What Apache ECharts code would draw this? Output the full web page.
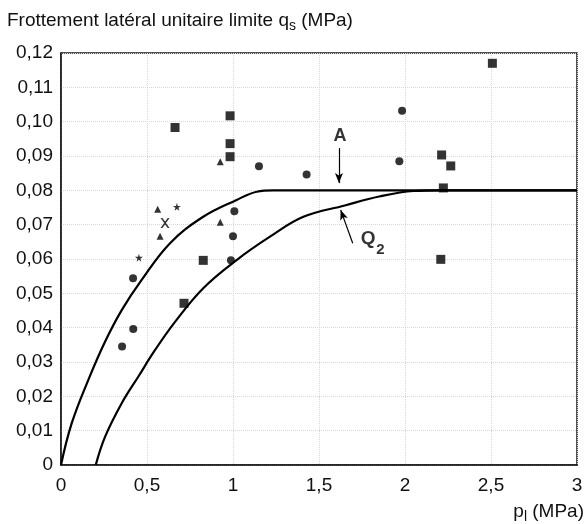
<!DOCTYPE html>
<html><head><meta charset="utf-8">
<script src="https://cdn.jsdelivr.net/npm/echarts@6/dist/echarts.min.js"></script>
<style>html,body{margin:0;padding:0;background:#fff}#c{width:586px;height:524px}</style>
</head><body><div id="c"></div>
<script>
var xTicks = ['0','0,5','1','1,5','2','2,5','3'];
var yTicks = ['0','0,01','0,02','0,03','0,04','0,05','0,06','0,07','0,08','0,09','0,10','0,11','0,12'];
var squares = [[0.663,0.0983],[0.983,0.1017],[0.983,0.0936],[0.983,0.0898],[0.827,0.0596],[0.715,0.0471],[2.213,0.0903],[2.266,0.0871],[2.223,0.0807],[2.208,0.0599],[2.508,0.117]];
var circles = [[0.419,0.0544],[0.420,0.0396],[0.355,0.0345],[1.151,0.087],[1.428,0.0846],[1.008,0.0739],[1.0,0.0666],[0.988,0.0596],[1.983,0.1032],[1.967,0.0885]];
var triangles = [[0.926,0.0883],[0.562,0.0745],[0.926,0.0707],[0.576,0.0666]];
var stars = [[0.674,0.0752],[0.453,0.0604]];
var crosses = [[0.605,0.0705]];
var curveA = [[0,0],[0.062,0.0121],[0.159,0.0248],[0.256,0.0359],[0.353,0.0451],[0.469,0.0539],[0.634,0.0646],[0.827,0.0723],[1.021,0.0772],[1.138,0.0796],[1.234,0.08],[1.6,0.08],[2.3,0.08],[3,0.08]];
var curveQ2 = [[0.202,0],[0.256,0.0082],[0.353,0.018],[0.449,0.0257],[0.547,0.0335],[0.663,0.0417],[0.827,0.0515],[1.021,0.0597],[1.215,0.0665],[1.409,0.0723],[1.65,0.0756],[1.85,0.0782],[2.05,0.0798],[2.2,0.08],[2.6,0.08],[3,0.08]];
var arrowA = [[1.616,0.0923],[1.616,0.0821]];
var arrowQ2 = [[1.696,0.0646],[1.626,0.0743]];
var labelA = [1.622,0.0958];
var labelQ = [1.785,0.0658];
var labelQsub = [1.857,0.0628];

var FONT = 'Liberation Sans, Arial, Helvetica, sans-serif';
var chart = echarts.init(document.getElementById('c'));
function xFmt(v){ var i = Math.round(v/0.5); return xTicks[i] !== undefined ? xTicks[i] : ''; }
function yFmt(v){ var i = Math.round(v/0.01); return yTicks[i] !== undefined ? yTicks[i] : ''; }
var star = 'path://M50,0 L61,35 L98,35 L68,57 L79,91 L50,70 L21,91 L32,57 L2,35 L39,35 Z';
var cross = 'path://M0,0 L4,0 L10,7 L16,0 L20,0 L12,10 L20,20 L16,20 L10,13 L4,20 L0,20 L8,10 Z';
var option = {
  animation: false,
  backgroundColor: '#fff',
  grid: {left: 61, right: 9, top: 53, bottom: 59, show: true, borderColor: '#1a1a1a', borderWidth: 1.5},
  xAxis: {type: 'value', min: 0, max: 3, interval: 0.5,
    axisLine: {show: true, lineStyle: {color: '#1a1a1a', width: 1.5}}, axisTick: {show: false},
    axisLabel: {formatter: xFmt, color: '#111', fontSize: 19, fontFamily: FONT, margin: 11},
    splitLine: {show: true, lineStyle: {color: '#d6d6d6', type: 'dotted', width: 1}}},
  yAxis: {type: 'value', min: 0, max: 0.12, interval: 0.01,
    axisLine: {show: true, lineStyle: {color: '#1a1a1a', width: 1.5}}, axisTick: {show: false},
    axisLabel: {formatter: yFmt, color: '#111', fontSize: 19, fontFamily: FONT, margin: 8},
    splitLine: {show: true, lineStyle: {color: '#d6d6d6', type: 'dotted', width: 1}}},
  graphic: [
    {type: 'text', left: 7, top: 11, style: {text: 'Frottement latéral unitaire limite q{s|s} (MPa)', fill: '#111', font: '19px ' + FONT,
      rich: {s: {fontSize: 14, fontFamily: FONT, fill: '#111', padding: [11,0,0,0]}}}},
    {type: 'text', right: 2, top: 502, style: {text: 'p{s|l} (MPa)', fill: '#111', font: '19px ' + FONT,
      rich: {s: {fontSize: 14, fontFamily: FONT, fill: '#111', padding: [11,0,0,0]}}}}
  ],
  series: [
    {type: 'line', data: curveA, smooth: 0.4, showSymbol: false, lineStyle: {color: '#000', width: 2.2}, z: 3,
      markLine: {silent: true, symbol: ['none','arrow'], symbolSize: [6, 10], label: {show: false}, lineStyle: {color: '#000', width: 1.2, type: 'solid'},
        data: [[{coord: arrowA[0]}, {coord: arrowA[1]}], [{coord: arrowQ2[0]}, {coord: arrowQ2[1]}]]}},
    {type: 'line', data: curveQ2, smooth: 0.4, showSymbol: false, lineStyle: {color: '#000', width: 2.2}, z: 3},
    {type: 'scatter', data: squares, symbol: 'rect', symbolSize: 9, itemStyle: {color: '#000'}, z: 4},
    {type: 'scatter', data: circles, symbol: 'circle', symbolSize: 8, itemStyle: {color: '#000'}, z: 4},
    {type: 'scatter', data: triangles, symbol: 'triangle', symbolSize: 7, itemStyle: {color: '#000'}, z: 4},
    {type: 'scatter', data: stars, symbol: star, symbolSize: 8, itemStyle: {color: '#000'}, z: 4},
    {type: 'scatter', data: crosses, symbol: cross, symbolSize: [9,10], itemStyle: {color: '#000'}, z: 4},
    {type: 'scatter', symbolSize: 0, silent: true, z: 5,
      label: {show: true, position: 'inside', color: '#000', fontFamily: FONT, fontWeight: 'bold'},
      data: [
        {value: labelA, label: {formatter: 'A', fontSize: 18}},
        {value: labelQ, label: {formatter: 'Q', fontSize: 19}},
        {value: labelQsub, label: {formatter: '2', fontSize: 15}}
      ]}
  ]
};
chart.setOption(option);
</script></body></html>
